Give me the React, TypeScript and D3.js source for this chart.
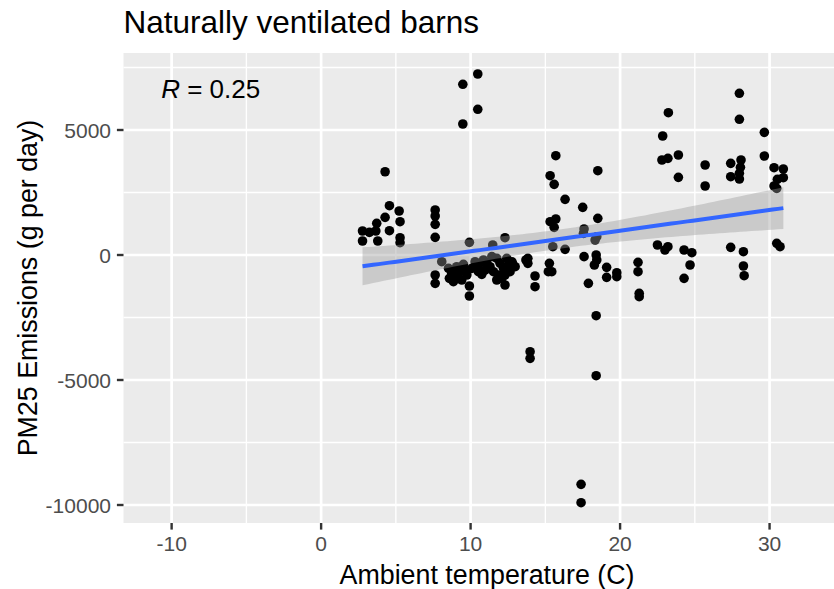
import * as d3 from 'd3';

// Ambient temperature (C) and PM25 emissions (g per day)
const temps = [
  2.77, 2.77, 3.23, 3.66, 3.72, 3.79, 4.28, 4.28, 4.57, 4.57, 5.22, 5.28, 5.28, 5.28,
  7.63, 7.63, 7.63, 7.63, 7.63, 7.63,
  8.07, 8.52, 8.74, 8.58, 8.85, 9.07, 9.3, 8.96, 9.52, 9.63, 9.75, 9.41, 10.3, 10.52,
  10.86, 11.08, 11.3, 11.53, 11.42, 11.75, 11.97, 12.2, 11.86, 12.3, 12.53, 12.76, 12.98,
  12.42, 12.09, 10.08, 10.52, 10.97, 11.75, 12.64,
  9.92, 12.3, 11.48, 9.92, 9.92, 12.3, 10.75, 13.7,
  10.48, 9.48, 10.48, 9.48,
  15.7, 15.32, 15.59, 18.51, 16.32, 17.5, 18.51, 15.32, 15.7, 15.59, 17.59, 18.44, 18.33,
  17.55, 15.5, 16.32, 17.59, 18.4, 18.44, 18.28, 19.1, 19.1, 19.78, 19.78, 17.88, 15.27,
  15.43, 15.2, 13.83, 13.83, 14.31, 14.31, 12.8, 21.2, 21.2, 21.28, 21.28,
  18.4, 13.98, 13.98, 18.4, 17.39, 17.39,
  22.5, 23.0, 23.2, 22.8, 23.2, 23.9, 23.9, 23.23, 22.85, 27.98, 27.98, 29.65, 29.65,
  25.69, 25.69, 27.4, 27.4, 28.09, 28.05, 27.98, 27.98, 30.3, 30.92, 30.92, 30.52, 30.3,
  30.48, 30.48, 30.7, 24.28, 24.8, 24.68, 24.28, 27.4, 28.25, 28.25, 28.3,
];
const emissions = [
  960, 560, 907, 960, 1267, 560, 3330, 1507, 1973, 973, 1760, 1333, 693, 493,
  1800, 1560, 1227, 707, -800, -1133,
  -267, -533, -733, -933, -1067, -467, -667, -867, -373, -600, -800, -1000, -267, -400,
  -200, -333, -467, -667, -67, -133, -333, -533, -800, -800, -400, -267, -467,
  -133, -933, -533, -667, -600, -1000, -667,
  507, 693, 400, -1240, -1640, -1200, -773, -200,
  7240, 6827, 5827, 5240,
  3973, 3173, 2827, 3373, 2227, 1907, 1467, 1333, 1440, 1107, 1040, 733, 600,
  867, 333, 227, -67, 0, -200, -400, -493, -893, -707, -867, -1133, -333,
  -667, -667, -133, -333, -840, -1267, -333, -293, -667, -1533, -1667,
  -2427, -3867, -4133, -4827, -9173, -9907,
  400, 200, 333, 3800, 3867, 4000, 3107, 5693, 4760, 6467, 5427, 4907, 3960,
  3600, 2760, 3667, 3133, 3800, 3507, 3267, 3040, 3493, 3440, 3093, 3027, 2760,
  2667, 467, 333, 200, 93, -400, -933, 307, 133, -440, -827,
];

const xLimits = [-13.22, 34.31];
const yLimits = [-10720, 8080];
const xBreaks = [-10, 0, 10, 20, 30];
const xMinor = [-5, 5, 15, 25];
const yBreaks = [-10000, -5000, 0, 5000];
const yMinor = [-7500, -2500, 2500, 7500];
const corLabel = { x: -10.7, y: 6300, r: '0.25' };

const W = 834;
const H = 589;
const panel = { left: 123.5, right: 834, top: 53, bottom: 523 };
const font = "'Liberation Sans', Arial, Helvetica, sans-serif";

export default function App() {
  const x = d3.scaleLinear().domain(xLimits).range([panel.left, panel.right]);
  const y = d3.scaleLinear().domain(yLimits).range([panel.bottom, panel.top]);

  // linear fit with 95% confidence band (like geom_smooth(method = 'lm'))
  const n = temps.length;
  const xbar = d3.mean(temps) as number;
  const ybar = d3.mean(emissions) as number;
  let sxx = 0;
  let sxy = 0;
  temps.forEach((t, i) => {
    sxx += (t - xbar) ** 2;
    sxy += (t - xbar) * (emissions[i] - ybar);
  });
  const slope = sxy / sxx;
  const icpt = ybar - slope * xbar;
  const sse = d3.sum(temps, (t, i) => (emissions[i] - (icpt + slope * t)) ** 2);
  const s = Math.sqrt(sse / (n - 2));
  const tq = 1.976;
  const [xmin, xmax] = d3.extent(temps) as [number, number];
  const fit = d3.range(80).map((i) => {
    const xv = xmin + ((xmax - xmin) * i) / 79;
    const yv = icpt + slope * xv;
    const se = s * Math.sqrt(1 / n + (xv - xbar) ** 2 / sxx);
    return { x: xv, y: yv, lo: yv - tq * se, hi: yv + tq * se };
  });

  const band = d3
    .area<{ x: number; lo: number; hi: number }>()
    .x((d) => x(d.x))
    .y0((d) => y(d.lo))
    .y1((d) => y(d.hi));
  const line = d3
    .line<{ x: number; y: number }>()
    .x((d) => x(d.x))
    .y((d) => y(d.y));

  const pw = panel.right - panel.left;
  const ph = panel.bottom - panel.top;

  return (
    <svg
      width={W}
      height={H}
      style={{ position: 'absolute', left: 0, top: 0, display: 'block', background: '#fff' }}
      fontFamily={font}
    >
      <defs>
        <clipPath id="panel-clip">
          <rect x={panel.left} y={panel.top} width={pw} height={ph} />
        </clipPath>
      </defs>

      {/* panel background + grid */}
      <rect x={panel.left} y={panel.top} width={pw} height={ph} fill="#EBEBEB" />
      {yMinor.map((v) => (
        <line key={'ym' + v} x1={panel.left} x2={panel.right} y1={y(v)} y2={y(v)} stroke="#fff" strokeWidth={1.35} />
      ))}
      {xMinor.map((v) => (
        <line key={'xm' + v} x1={x(v)} x2={x(v)} y1={panel.top} y2={panel.bottom} stroke="#fff" strokeWidth={1.35} />
      ))}
      {yBreaks.map((v) => (
        <line key={'yM' + v} x1={panel.left} x2={panel.right} y1={y(v)} y2={y(v)} stroke="#fff" strokeWidth={2.7} />
      ))}
      {xBreaks.map((v) => (
        <line key={'xM' + v} x1={x(v)} x2={x(v)} y1={panel.top} y2={panel.bottom} stroke="#fff" strokeWidth={2.7} />
      ))}

      <g clipPath="url(#panel-clip)">
        {temps.map((t, i) => (
          <circle key={i} cx={x(t)} cy={y(emissions[i])} r={4.8} fill="#000" />
        ))}
        <path d={band(fit) || ''} fill="#999999" fillOpacity={0.4} />
        <path d={line(fit) || ''} fill="none" stroke="#3366FF" strokeWidth={4} />
      </g>

      {/* correlation label */}
      <text x={x(corLabel.x)} y={y(corLabel.y)} fontSize={26} fill="#000">
        <tspan fontStyle="italic">R</tspan> = {corLabel.r}
      </text>

      {/* y axis */}
      {yBreaks.map((v) => (
        <g key={'yt' + v}>
          <line x1={116.9} x2={panel.left} y1={y(v)} y2={y(v)} stroke="#333333" strokeWidth={2.4} />
          <text x={111} y={y(v)} dy="0.36em" textAnchor="end" fontSize={21} fill="#4D4D4D">
            {v}
          </text>
        </g>
      ))}

      {/* x axis */}
      {xBreaks.map((v) => (
        <g key={'xt' + v}>
          <line x1={x(v)} x2={x(v)} y1={panel.bottom} y2={panel.bottom + 6.6} stroke="#333333" strokeWidth={2.4} />
          <text x={x(v)} y={551} textAnchor="middle" fontSize={21} fill="#4D4D4D">
            {v}
          </text>
        </g>
      ))}

      <text x={487} y={584} textAnchor="middle" fontSize={26.8} fill="#000">
        Ambient temperature (C)
      </text>
      <text
        transform={`translate(37,${(panel.top + panel.bottom) / 2}) rotate(-90)`}
        textAnchor="middle"
        fontSize={26.8}
        fill="#000"
      >
        PM25 Emissions (g per day)
      </text>

      <text x={panel.left} y={33} fontSize={31.5} fill="#000">
        Naturally ventilated barns
      </text>
    </svg>
  );
}
